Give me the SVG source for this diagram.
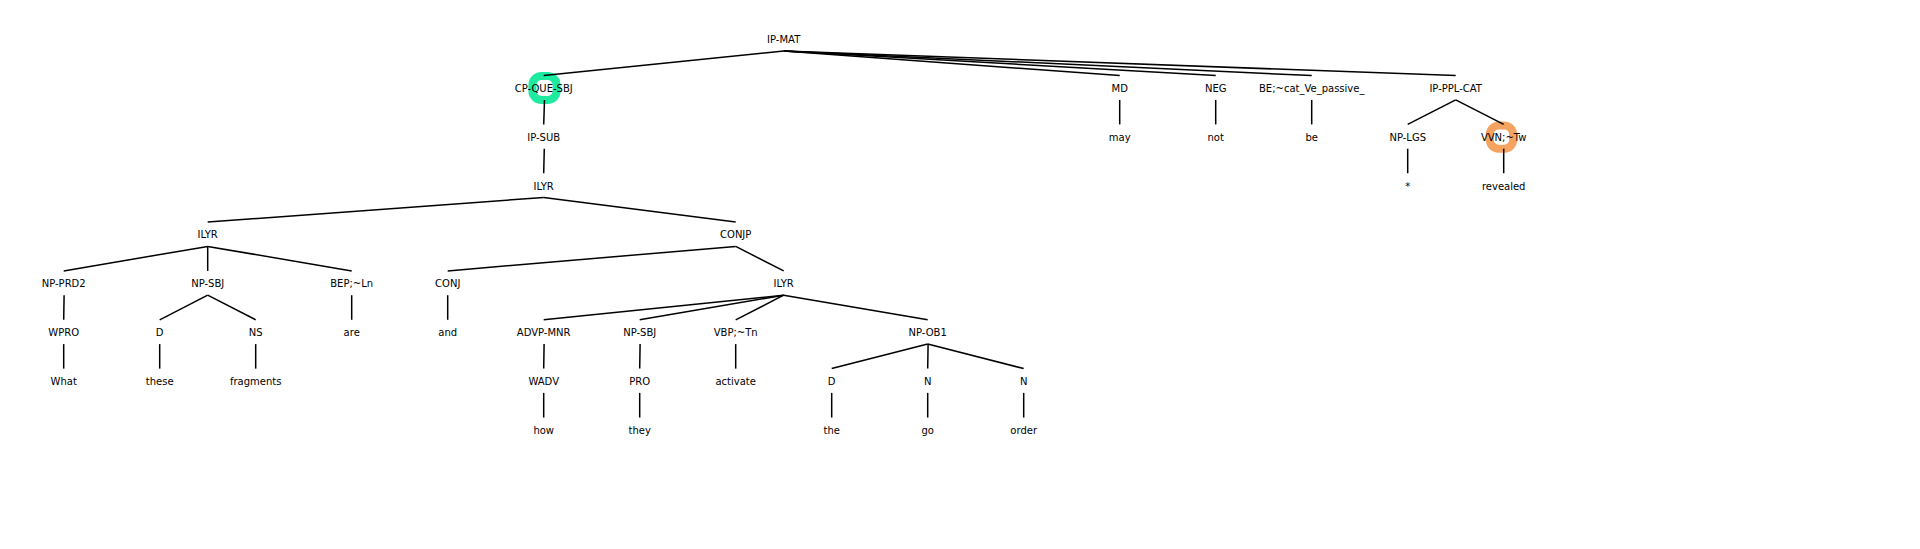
<svg xmlns="http://www.w3.org/2000/svg" width="1920" height="549" viewBox="0 0 1920 549">
<style>
text{font-family:"DejaVu Sans","Liberation Sans",sans-serif;font-size:10px;fill:#000;text-anchor:middle}
#edges line{stroke:#000;stroke-width:1.5;stroke-linecap:butt}
.ring{fill:none;stroke-width:8}
</style>
<rect width="1920" height="549" fill="#fff"/>
<g id="highlights">
<rect class="ring" x="532.4" y="76" width="24.2" height="24" rx="9" stroke="#1EEBA0"/>
<rect class="ring" x="1489.8" y="125.4" width="23.4" height="23.4" rx="9" stroke="#F4A460"/>
</g>
<g id="edges">
<line x1="783.7" y1="51" x2="543.7" y2="75.6"/>
<line x1="783.7" y1="51" x2="1119.7" y2="75.6"/>
<line x1="783.7" y1="51" x2="1215.7" y2="75.6"/>
<line x1="783.7" y1="51" x2="1311.7" y2="75.6"/>
<line x1="783.7" y1="51" x2="1455.7" y2="75.6"/>
<line x1="544.5" y1="99.9" x2="543.7" y2="124.4"/>
<line x1="1119.7" y1="99.9" x2="1119.7" y2="124.4"/>
<line x1="1215.7" y1="99.9" x2="1215.7" y2="124.4"/>
<line x1="1311.7" y1="99.9" x2="1311.7" y2="124.4"/>
<line x1="1455.7" y1="99.9" x2="1407.7" y2="124.4"/>
<line x1="1455.7" y1="99.9" x2="1503.7" y2="124.4"/>
<line x1="544.3" y1="148.7" x2="543.7" y2="173.2"/>
<line x1="1407.7" y1="148.7" x2="1407.7" y2="173.2"/>
<line x1="1503.7" y1="148.7" x2="1503.7" y2="173.2"/>
<line x1="543.7" y1="197.5" x2="207.7" y2="222.1"/>
<line x1="543.7" y1="197.5" x2="735.7" y2="222.1"/>
<line x1="207.7" y1="246.4" x2="63.7" y2="270.9"/>
<line x1="207.7" y1="246.4" x2="207.7" y2="270.9"/>
<line x1="207.7" y1="246.4" x2="351.7" y2="270.9"/>
<line x1="735.7" y1="246.4" x2="447.7" y2="270.9"/>
<line x1="735.7" y1="246.4" x2="783.7" y2="270.9"/>
<line x1="64.1" y1="295.2" x2="63.7" y2="319.8"/>
<line x1="207.7" y1="295.2" x2="159.7" y2="319.8"/>
<line x1="207.7" y1="295.2" x2="255.7" y2="319.8"/>
<line x1="351.7" y1="295.2" x2="351.7" y2="319.8"/>
<line x1="447.7" y1="295.2" x2="447.7" y2="319.8"/>
<line x1="783.7" y1="295.2" x2="543.7" y2="319.8"/>
<line x1="783.7" y1="295.2" x2="639.7" y2="319.8"/>
<line x1="783.7" y1="295.2" x2="735.7" y2="319.8"/>
<line x1="783.7" y1="295.2" x2="927.7" y2="319.8"/>
<line x1="63.7" y1="344.1" x2="63.7" y2="368.6"/>
<line x1="159.7" y1="344.1" x2="159.7" y2="368.6"/>
<line x1="255.7" y1="344.1" x2="255.7" y2="368.6"/>
<line x1="544.1" y1="344.1" x2="543.7" y2="368.6"/>
<line x1="640.1" y1="344.1" x2="639.7" y2="368.6"/>
<line x1="735.7" y1="344.1" x2="735.7" y2="368.6"/>
<line x1="927.7" y1="344.1" x2="831.7" y2="368.6"/>
<line x1="928.1" y1="344.1" x2="927.7" y2="368.6"/>
<line x1="927.7" y1="344.1" x2="1023.7" y2="368.6"/>
<line x1="543.7" y1="392.9" x2="543.7" y2="417.5"/>
<line x1="639.7" y1="392.9" x2="639.7" y2="417.5"/>
<line x1="831.7" y1="392.9" x2="831.7" y2="417.5"/>
<line x1="927.7" y1="392.9" x2="927.7" y2="417.5"/>
<line x1="1023.7" y1="392.9" x2="1023.7" y2="417.5"/>
</g>
<g id="n-ipmat"><text x="783.7" y="42.9">IP-MAT</text></g>
<g id="n-cpquesbj"><text x="543.7" y="91.8">CP-QUE-SBJ</text></g>
<g id="n-md"><text x="1119.7" y="91.8">MD</text></g>
<g id="n-neg"><text x="1215.7" y="91.8">NEG</text></g>
<g id="n-be"><text x="1311.7" y="91.8">BE;~cat_Ve_passive_</text></g>
<g id="n-ipplcat"><text x="1455.7" y="91.8">IP-PPL-CAT</text></g>
<g id="n-ipsub"><text x="543.7" y="140.6">IP-SUB</text></g>
<g id="n-may"><text x="1119.7" y="140.6">may</text></g>
<g id="n-not"><text x="1215.7" y="140.6">not</text></g>
<g id="n-be-w"><text x="1311.7" y="140.6">be</text></g>
<g id="n-nplgs"><text x="1407.7" y="140.6">NP-LGS</text></g>
<g id="n-vvn"><text x="1503.7" y="140.6">VVN;~Tw</text></g>
<g id="n-ilyr1"><text x="543.7" y="189.5">ILYR</text></g>
<g id="n-star"><text x="1407.7" y="189.5">*</text></g>
<g id="n-revealed"><text x="1503.7" y="189.5">revealed</text></g>
<g id="n-ilyr2"><text x="207.7" y="238.3">ILYR</text></g>
<g id="n-conjp"><text x="735.7" y="238.3">CONJP</text></g>
<g id="n-npprd2"><text x="63.7" y="287.2">NP-PRD2</text></g>
<g id="n-npsbj1"><text x="207.7" y="287.2">NP-SBJ</text></g>
<g id="n-bep"><text x="351.7" y="287.2">BEP;~Ln</text></g>
<g id="n-conj"><text x="447.7" y="287.2">CONJ</text></g>
<g id="n-ilyr3"><text x="783.7" y="287.2">ILYR</text></g>
<g id="n-wpro"><text x="63.7" y="336">WPRO</text></g>
<g id="n-d1"><text x="159.7" y="336">D</text></g>
<g id="n-ns"><text x="255.7" y="336">NS</text></g>
<g id="n-are"><text x="351.7" y="336">are</text></g>
<g id="n-and"><text x="447.7" y="336">and</text></g>
<g id="n-advpmnr"><text x="543.7" y="336">ADVP-MNR</text></g>
<g id="n-npsbj2"><text x="639.7" y="336">NP-SBJ</text></g>
<g id="n-vbp"><text x="735.7" y="336">VBP;~Tn</text></g>
<g id="n-npob1"><text x="927.7" y="336">NP-OB1</text></g>
<g id="n-what"><text x="63.7" y="384.9">What</text></g>
<g id="n-these"><text x="159.7" y="384.9">these</text></g>
<g id="n-fragments"><text x="255.7" y="384.9">fragments</text></g>
<g id="n-wadv"><text x="543.7" y="384.9">WADV</text></g>
<g id="n-pro"><text x="639.7" y="384.9">PRO</text></g>
<g id="n-activate"><text x="735.7" y="384.9">activate</text></g>
<g id="n-d2"><text x="831.7" y="384.9">D</text></g>
<g id="n-n1"><text x="927.7" y="384.9">N</text></g>
<g id="n-n2"><text x="1023.7" y="384.9">N</text></g>
<g id="n-how"><text x="543.7" y="433.7">how</text></g>
<g id="n-they"><text x="639.7" y="433.7">they</text></g>
<g id="n-the"><text x="831.7" y="433.7">the</text></g>
<g id="n-go"><text x="927.7" y="433.7">go</text></g>
<g id="n-order"><text x="1023.7" y="433.7">order</text></g>
</svg>
